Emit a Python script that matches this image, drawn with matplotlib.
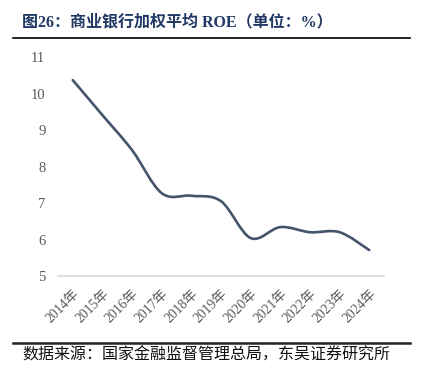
import numpy as np
import matplotlib.pyplot as plt
from matplotlib.path import Path
from matplotlib.patches import PathPatch

# 商业银行加权平均 ROE（%）
years = ['2014年', '2015年', '2016年', '2017年', '2018年', '2019年',
         '2020年', '2021年', '2022年', '2023年', '2024年']
roe = [10.37, 9.41, 8.45, 7.27, 7.2, 7.05, 6.04, 6.34, 6.2, 6.2, 5.71]

fnt = ['Liberation Serif', 'Noto Sans CJK SC']
line_color = '#44546A'

fig = plt.figure(figsize=(4.23, 3.86), dpi=100)
ax = fig.add_axes([0.137, 0.285, 0.771, 0.567])

x = np.arange(len(years))
y = np.array(roe)

# smoothed line (Catmull-Rom -> bezier), like Excel smooth line
verts = [(x[0], y[0])]
codes = [Path.MOVETO]
t = 1 / 6
for i in range(len(x) - 1):
    p0 = np.array([x[max(i - 1, 0)], y[max(i - 1, 0)]])
    p1 = np.array([x[i], y[i]])
    p2 = np.array([x[i + 1], y[i + 1]])
    p3 = np.array([x[min(i + 2, len(x) - 1)], y[min(i + 2, len(x) - 1)]])
    c1 = p1 + (p2 - p0) * t
    c2 = p2 - (p3 - p1) * t
    verts += [tuple(c1), tuple(c2), tuple(p2)]
    codes += [Path.CURVE4] * 3
ax.add_patch(PathPatch(Path(verts, codes), fill=False, edgecolor=line_color,
                       lw=1.9, capstyle='round', joinstyle='round'))

ax.set_xlim(-0.5, len(years) - 0.5)
ax.set_ylim(5, 11)
ax.set_yticks(range(5, 12))
ax.set_xticks(x)
ax.set_xticklabels(years, rotation=45, ha='right', va='top',
                   rotation_mode='anchor', family=fnt, fontsize=9.8, color='#595959')
for lab in ax.get_yticklabels():
    lab.set_family(fnt)
    lab.set_fontsize(10.5)
    lab.set_color('#595959')
ax.tick_params(axis='both', length=0)
ax.tick_params(axis='y', pad=9)
ax.tick_params(axis='x', pad=8)
for s in ['top', 'right', 'left']:
    ax.spines[s].set_visible(False)
ax.spines['bottom'].set_color('#D9D9D9')
ax.spines['bottom'].set_linewidth(1.2)

# title and source
fig.text(22 / 423, 1 - 22 / 386, '图26：商业银行加权平均 ROE（单位：%）', family=fnt,
         fontsize=11.5, fontweight='bold', color='#1F3864', va='center', ha='left')
fig.add_artist(plt.Line2D([13 / 423, 410 / 423], [1 - 38 / 386, 1 - 38 / 386],
                          color='black', lw=1.2))
fig.add_artist(plt.Line2D([13 / 423, 410 / 423], [1 - 343 / 386, 1 - 343 / 386],
                          color='#222222', lw=1.8))
fig.text(22 / 423, 1 - 356 / 386, '数据来源：国家金融监督管理总局，东吴证券研究所', family=fnt,
         fontsize=11.5, color='#111111', va='center', ha='left')

fig.savefig('out.png', dpi=100)
